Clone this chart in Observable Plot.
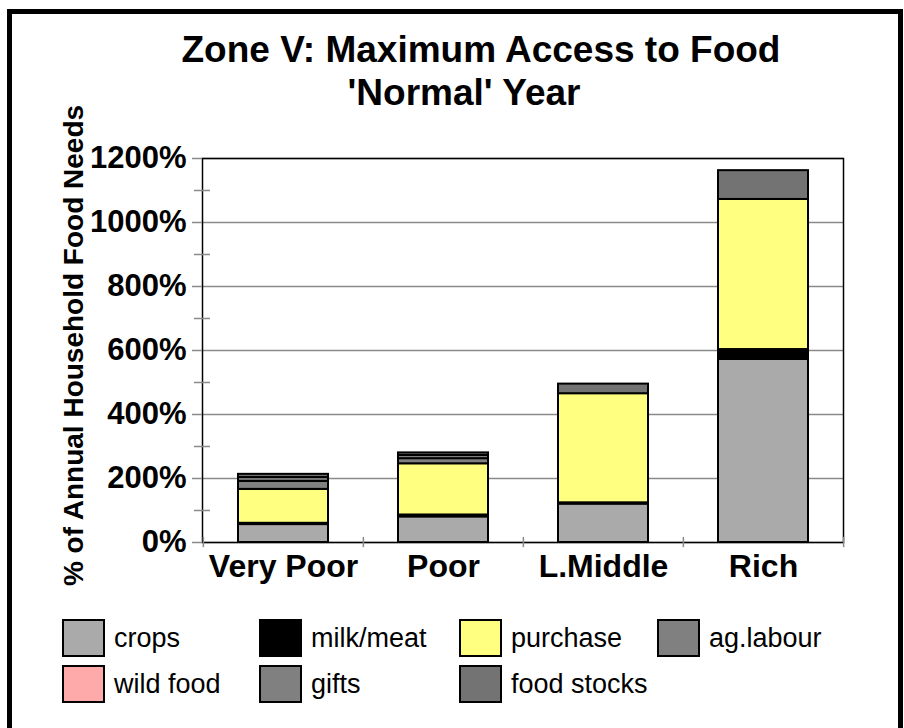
<!DOCTYPE html>
<html>
<head>
<meta charset="utf-8">
<script src="https://cdn.jsdelivr.net/npm/d3@7"></script>
<script src="https://cdn.jsdelivr.net/npm/@observablehq/plot@0.6"></script>
<style>
  html, body { margin: 0; padding: 0; background: #fff; }
  body { width: 904px; height: 728px; position: relative; overflow: hidden; font-family: "Liberation Sans", Arial, sans-serif; }
  #border { position: absolute; left: 7px; top: 9px; width: 896px; height: 740px; box-sizing: border-box; border: 5px solid #000; border-bottom: none; }
  .t { position: absolute; white-space: nowrap; font-weight: bold; font-size: 37px; line-height: 37px; transform: translateX(-50%); }
  #chart { position: absolute; left: 0; top: 0; }
  .lg { position: absolute; display: flex; align-items: center; font-size: 27px; line-height: 27px; }
  .sw { width: 43px; height: 38px; box-sizing: border-box; border: 2px solid #000; margin-right: 9px; }
</style>
</head>
<body>
<div id="border"></div>
<div id="chart"></div>
<div class="t" id="t1" style="left:481px; top:31px;"></div>
<div class="t" id="t2" style="left:464px; top:74px;"></div>
<div id="legend"></div>
<script>
const titleLines = ["Zone V: Maximum Access to Food", "'Normal' Year"];
const yLabel = "% of Annual Household Food Needs";
const groups = ["Very Poor", "Poor", "L.Middle", "Rich"];
const sources = ["crops", "milk/meat", "purchase", "ag.labour", "wild food", "gifts", "food stocks"];
const colors = ["#aaaaaa", "#000000", "#ffff80", "#808080", "#ffaaaa", "#808080", "#737373"];
// values in % of annual household food needs, per group in order of `groups`
const crops      = [56, 80, 120, 572];
const milkMeat   = [4, 6, 4, 31];
const purchase   = [106, 160, 341, 469];
const agLabour   = [25, 16, 0, 0];
const wildFood   = [0, 0, 0, 0];
const gifts      = [12, 10, 0, 0];
const foodStocks = [10, 8, 30, 90];
const majorTicks = [0, 200, 400, 600, 800, 1000, 1200];
const minorTicks = [100, 300, 500, 700, 900, 1100];

const series = [crops, milkMeat, purchase, agLabour, wildFood, gifts, foodStocks];
const data = [];
groups.forEach((g, gi) => sources.forEach((s, si) => data.push({group: g, source: s, value: series[si][gi]})));

document.getElementById("t1").textContent = titleLines[0];
document.getElementById("t2").textContent = titleLines[1];

const W = 904, H = 600, mL = 202, mR = 61, mT = 158, mB = 58;
const step = (W - mL - mR) / groups.length;

const chart = Plot.plot({
  width: W, height: H,
  marginLeft: mL, marginRight: mR, marginTop: mT, marginBottom: mB,
  style: {fontFamily: "Liberation Sans, Arial, sans-serif", fontWeight: "bold", fontSize: "31px", color: "#000", background: "transparent", overflow: "visible"},
  x: {type: "band", domain: groups, padding: 0, label: null},
  y: {domain: [0, 1200], label: null},
  color: {domain: sources, range: colors},
  marks: [
    Plot.gridY({ticks: majorTicks, stroke: "#8a8a8a", strokeOpacity: 1, strokeWidth: 1.5}),
    Plot.barY(data, Plot.stackY({order: sources, x: "group", y: "value", fill: "source", stroke: "#000", strokeWidth: 2, insetLeft: 35, insetRight: 35, filter: d => d.value > 0})),
    Plot.frame({stroke: "#000", strokeWidth: 1.5}),
    Plot.axisY({ticks: majorTicks, tickSize: 10, tickPadding: 6, tickFormat: d => d + "%", stroke: "#8a8a8a", fill: "#000", strokeWidth: 1.5}),
    Plot.axisY({ticks: minorTicks, tickSize: 16, dx: 8, tickFormat: () => "", stroke: "#8a8a8a", strokeWidth: 1.5}),
    Plot.axisX({tickSize: 0, tickPadding: 12, fontSize: 32}),
    Plot.ruleX(groups, {x: d => d, dx: -step / 2, y1: -16, y2: 16, stroke: "#8a8a8a", strokeWidth: 1.5}),
    Plot.ruleX(groups.slice(-1), {x: d => d, dx: step / 2, y1: -16, y2: 16, stroke: "#8a8a8a", strokeWidth: 1.5}),
    Plot.text([yLabel], {text: d => d, frameAnchor: "left", textAnchor: "middle", rotate: -90, dx: -128, dy: -5, fontSize: 28, fontWeight: "bold", fill: "#000"})
  ]
});
document.getElementById("chart").appendChild(chart);

// legend
const legendCols = [62, 259, 459, 657];
const legendRows = [619, 665];
const lg = document.getElementById("legend");
sources.forEach((s, i) => {
  const row = Math.floor(i / 4), col = i % 4;
  const item = document.createElement("div");
  item.className = "lg";
  item.style.left = legendCols[col] + "px";
  item.style.top = legendRows[row] + "px";
  const sw = document.createElement("div");
  sw.className = "sw";
  sw.style.background = colors[i];
  const tx = document.createElement("span");
  tx.textContent = s;
  item.appendChild(sw);
  item.appendChild(tx);
  lg.appendChild(item);
});
</script>
</body>
</html>
